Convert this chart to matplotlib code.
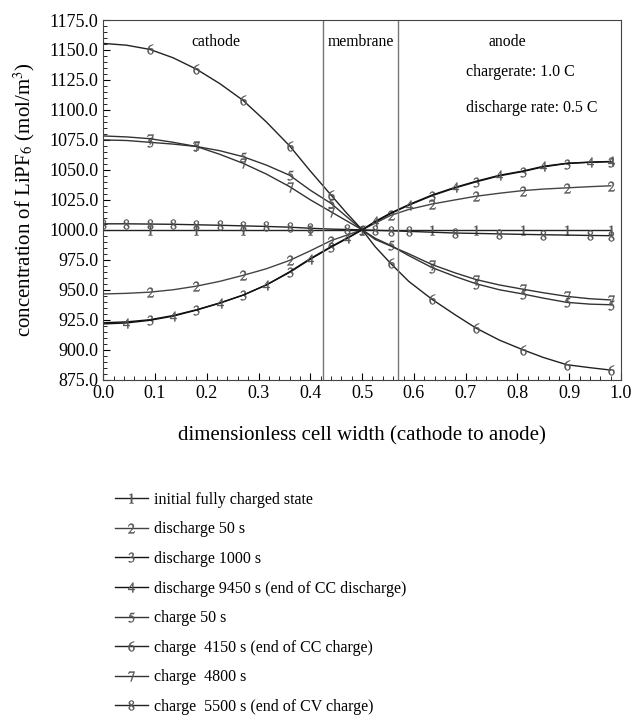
import numpy as np
import matplotlib
matplotlib.use('Agg')
import matplotlib.pyplot as plt
from matplotlib.ticker import MultipleLocator, FormatStrFormatter

plt.rcParams['font.family'] = ['Liberation Serif', 'DejaVu Serif']
plt.rcParams['mathtext.fontset'] = 'stix'

# posicion adimensional (catodo -> anodo)
x = [0.0, 0.045, 0.09, 0.135, 0.18, 0.225, 0.27, 0.315, 0.36, 0.40, 0.44, 0.47, 0.5,
     0.525, 0.555, 0.59, 0.635, 0.68, 0.72, 0.765, 0.81, 0.85, 0.895, 0.94, 0.98]

# concentracion LiPF6 [mol/m^3]
c1 = [1000.0, 1000.0, 1000.0, 1000.0, 1000.0, 1000.0, 1000.0, 1000.0, 1000.0, 1000.0, 1000.0, 1000.0, 1000.0,
      1000.0, 1000.0, 1000.0, 1000.0, 1000.0, 1000.0, 1000.0, 1000.0, 1000.0, 1000.0, 1000.0, 1000.0]
c2 = [946.5, 947.0, 948.0, 950.0, 953.0, 957.0, 962.0, 967.5, 974.5, 982.5, 991.0, 995.5, 1000.0,
      1005.5, 1012.0, 1017.0, 1021.5, 1025.0, 1028.0, 1030.5, 1032.7, 1034.0, 1035.0, 1036.0, 1036.7]
c3 = [922.5, 923.2, 925.0, 928.5, 933.3, 939.0, 945.5, 954.0, 964.5, 975.5, 985.5, 992.5, 1000.0,
      1006.5, 1013.5, 1020.5, 1028.5, 1035.0, 1040.0, 1045.0, 1048.6, 1052.5, 1055.3, 1056.3, 1056.8]
c4 = [921.5, 922.3, 924.5, 928.0, 933.0, 938.8, 945.5, 954.0, 965.0, 976.0, 986.0, 993.0, 1000.0,
      1007.0, 1014.0, 1021.0, 1029.0, 1035.5, 1040.5, 1045.5, 1049.0, 1053.0, 1055.5, 1056.5, 1057.0]
c5 = [1075.0, 1074.5, 1073.0, 1071.5, 1069.5, 1066.0, 1061.0, 1054.0, 1045.5, 1033.0, 1022.0, 1011.0, 1000.0,
      993.0, 987.0, 978.5, 968.5, 961.0, 955.0, 950.0, 946.5, 943.0, 939.5, 938.0, 937.5]
c6 = [1155.5, 1154.0, 1150.5, 1143.5, 1134.0, 1122.0, 1108.0, 1090.0, 1070.0, 1049.0, 1029.0, 1014.0, 1000.0,
      986.0, 972.0, 957.0, 942.0, 929.0, 918.0, 908.0, 900.0, 893.5, 887.5, 885.0, 883.0]
c7 = [1078.3, 1077.5, 1076.0, 1073.0, 1069.5, 1063.0, 1055.5, 1046.5, 1036.0, 1025.0, 1015.0, 1007.5, 1000.0,
      992.0, 986.5, 980.0, 971.0, 964.0, 958.5, 954.0, 950.5, 947.5, 944.5, 942.5, 941.5]
c8 = [1005.0, 1005.0, 1004.8, 1004.6, 1004.2, 1003.8, 1003.3, 1002.8, 1002.2, 1001.3, 1000.6, 1000.3, 1000.0,
      999.6, 999.2, 998.7, 998.0, 997.3, 997.0, 996.6, 996.2, 995.9, 995.6, 995.3, 995.1]

curvas = [c1, c2, c3, c4, c5, c6, c7, c8]
etiquetas = ['initial fully charged state',
             'discharge 50 s',
             'discharge 1000 s',
             'discharge 9450 s (end of CC discharge)',
             'charge 50 s',
             'charge  4150 s (end of CC charge)',
             'charge  4800 s',
             'charge  5500 s (end of CV charge)']
# posiciones (indices) de los numeros sobre cada curva
marcas = [[2, 4, 6, 9, 12, 16, 18, 20, 22, 24],
          [2, 4, 6, 8, 10, 14, 16, 18, 20, 22, 24],
          [2, 4, 6, 8, 10, 16, 18, 20, 22, 24],
          [1, 3, 5, 7, 9, 11, 13, 15, 17, 19, 21, 23, 24],
          [2, 4, 6, 8, 10, 12, 14, 16, 18, 20, 22, 24],
          [2, 4, 6, 8, 10, 14, 16, 18, 20, 22, 24],
          [2, 4, 6, 8, 10, 16, 18, 20, 22, 24],
          [0, 1, 2, 3, 4, 5, 6, 7, 8, 9, 11, 13, 14, 15, 17, 19, 21, 23, 24]]
colores = ['#222222', '#444444', '#111111', '#111111', '#333333', '#222222', '#333333', '#222222']

fig = plt.figure(figsize=(6.37, 7.15), dpi=100)
ax = fig.add_axes([0.162, 0.469, 0.813, 0.503])

lineas = []
for i, (c, et, mk, col) in enumerate(zip(curvas, etiquetas, marcas, colores)):
    ln, = ax.plot(x, c, color=col, lw=1.0, marker='$%d$' % (i + 1), markersize=7,
                  markevery=mk, markeredgewidth=0.3, markerfacecolor='#555555',
                  markeredgecolor='#555555', label=et)
    lineas.append(ln)

# limites de la membrana
ax.axvline(0.425, color='#777777', lw=1.0)
ax.axvline(0.57, color='#777777', lw=1.0)

ax.text(0.217, 1157, 'cathode', ha='center', va='center', fontsize=11.3)
ax.text(0.497, 1157, 'membrane', ha='center', va='center', fontsize=11.3)
ax.text(0.781, 1157, 'anode', ha='center', va='center', fontsize=11.3)
ax.text(0.70, 1132, 'chargerate: 1.0 C', ha='left', va='center', fontsize=11.5)
ax.text(0.70, 1102, 'discharge rate: 0.5 C', ha='left', va='center', fontsize=11.5)

ax.set_xlim(0.0, 1.0)
ax.set_ylim(875, 1175)
ax.xaxis.set_major_locator(MultipleLocator(0.1))
ax.xaxis.set_minor_locator(MultipleLocator(0.02))
ax.yaxis.set_major_locator(MultipleLocator(25))
ax.yaxis.set_minor_locator(MultipleLocator(5))
ax.xaxis.set_major_formatter(FormatStrFormatter('%.1f'))
ax.yaxis.set_major_formatter(FormatStrFormatter('%.1f'))
ax.tick_params(which='both', direction='in', top=False, right=False, labelsize=13)
ax.tick_params(which='major', length=5)
ax.tick_params(which='minor', length=3)
for sp in ax.spines.values():
    sp.set_color('#444444')

ax.set_xlabel('dimensionless cell width (cathode to anode)', fontsize=15, labelpad=18)
ax.set_ylabel('concentration of LiPF$_6$ (mol/m$^3$)', fontsize=15, labelpad=9)

fig.legend(handles=lineas, loc='upper left', bbox_to_anchor=(0.18, 0.312),
           frameon=False, fontsize=11.5, handlelength=2.1, handletextpad=0.35,
           labelspacing=0.85, borderpad=0, borderaxespad=0)

plt.savefig('out.png', dpi=100)
